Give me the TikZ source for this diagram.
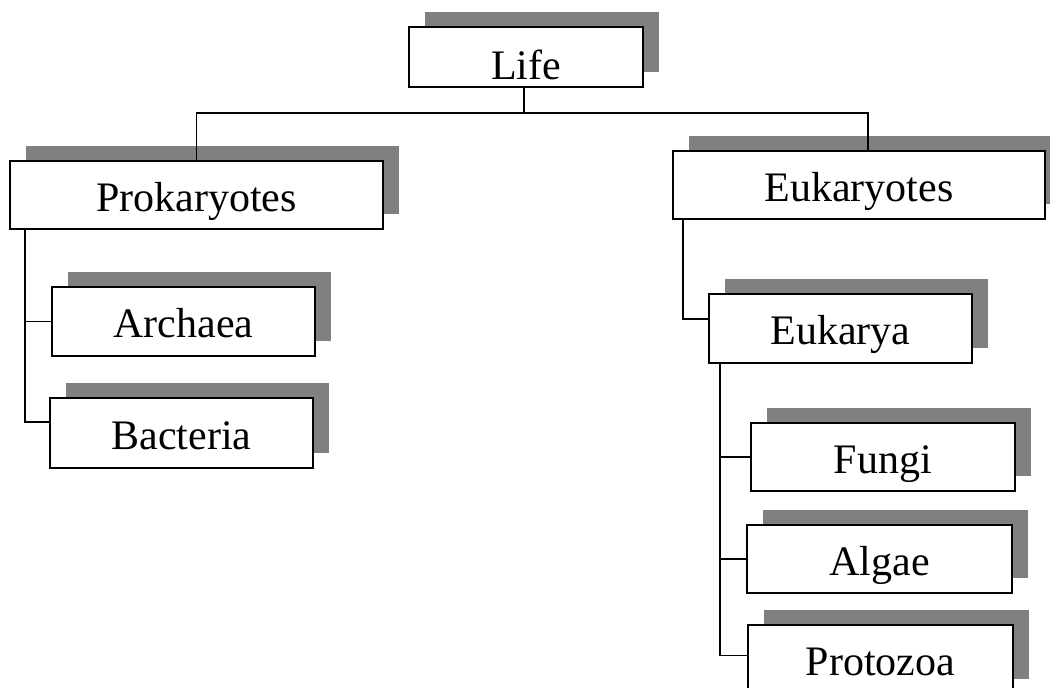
\documentclass[tikz,border=0pt]{standalone}
\usepackage{fontspec}
\setmainfont{Liberation Serif}
\usetikzlibrary{shadows}
\begin{document}
\begin{tikzpicture}[x=1pt,y=-1pt,
  box/.style={draw=black, line width=2pt, fill=white, inner sep=0pt,
    font=\fontsize{42}{48}\selectfont, text height=32pt, text depth=0pt,
    minimum height=68pt,
    drop shadow={shadow xshift=16pt, shadow yshift=15.5pt, fill=black!50, opacity=1}},
  conn/.style={line width=1.8pt, draw=black}]
\clip (0,0) rectangle (1050,688);
\fill[white] (0,0) rectangle (1050,688);
\node[box, minimum width=234pt, minimum height=60pt, text height=44pt] (life) at (526,57) {Life};
\node[box, minimum width=373pt] (prok) at (196.5,195) {Prokaryotes};
\node[box, minimum width=372pt] (euk) at (859,185) {Eukaryotes};
\node[box, minimum width=263pt, minimum height=69pt] (arch) at (183.5,321.5) {Archaea};
\node[box, minimum width=263pt, minimum height=70pt] (bact) at (181.5,433) {Bacteria};
\node[box, minimum width=263pt, minimum height=69pt] (eukarya) at (840.5,328.5) {Eukarya};
\node[box, minimum width=264pt] (fungi) at (883,457) {Fungi};
\node[box, minimum width=265pt] (algae) at (879.5,559) {Algae};
\node[box, minimum width=265pt, minimum height=69pt] (proto) at (880.5,659.5) {Protozoa};
\coordinate (bus) at (524,113);
\draw[conn] ([xshift=-2pt]life.south) -- (bus);
\draw[conn] (prok.north) |- (bus);
\draw[conn] ([xshift=9pt]euk.north) |- (bus);
\draw[conn] ([xshift=16pt]prok.south west) |- (arch.west);
\draw[conn] ([xshift=16pt]prok.south west) |- ([yshift=11pt]bact.west);
\draw[conn] ([xshift=11pt]euk.south west) |- ([yshift=9.5pt]eukarya.west);
\draw[conn] ([xshift=12pt]eukarya.south west) |- (fungi.west);
\draw[conn] ([xshift=12pt]eukarya.south west) |- (algae.west);
\draw[conn] ([xshift=12pt]eukarya.south west) |- ([yshift=4pt]proto.west);
\end{tikzpicture}
\end{document}
